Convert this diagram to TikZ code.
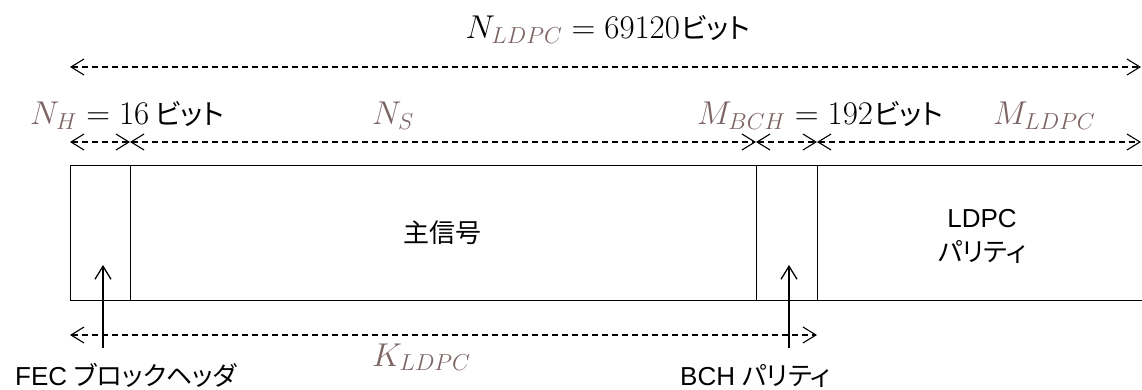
\RequirePackage{fix-cm}
\documentclass[tikz,border=0pt]{standalone}
\usepackage[no-math]{fontspec}
\setmainfont{Liberation Sans}
\newfontfamily\jp[RawFeature=+palt]{Noto Sans CJK JP}
\newcommand{\bitword}{{\jp\fontsize{28}{34}\selectfont ビット}}
\usetikzlibrary{arrows.meta}
\definecolor{subc}{RGB}{125,100,100}
\tikzset{
  blk/.style={draw, line width=1.4pt, minimum height=135pt, inner sep=0pt, anchor=north west},
  dim/.style={dash pattern=on 6pt off 4pt, line width=1.1pt, {Straight Barb[length=13pt,width=16pt]}-{Straight Barb[length=13pt,width=16pt]}},
  ptr/.style={line width=1.3pt, -{Straight Barb[length=13pt,width=16pt]}},
  mathlab/.style={inner sep=0pt, font=\fontsize{33}{39}\selectfont},
  txt/.style={inner sep=0pt, font=\fontsize{26}{34}\selectfont, align=center}
}
\begin{document}
\begin{tikzpicture}[x=1pt,y=-1pt]
\useasboundingbox (0,0) rectangle (1142,390);
% blocks
\node[blk, minimum width=60pt]  (hdr)  at (70,165)  {};
\node[blk, minimum width=626pt] (main) at (130,165) {};
\node[blk, minimum width=61pt]  (bch)  at (756,165) {};
\node[blk, minimum width=400pt] (ldpc) at (817,165) {};
\node[txt] (mainlab) at (442,233) {\jp 主信号};
\node[txt] (ldpclab) at (982,236) {LDPC\\{\jp パリティ}};
% dimension coordinates
\coordinate (tL) at (70,67);   \coordinate (tR) at (1141,67);
\coordinate (s0) at (70,142);  \coordinate (s1) at (130,142);
\coordinate (s2) at (756,142); \coordinate (s3) at (817,142);
\coordinate (s4) at (1141,142);
\coordinate (kL) at (70,335);  \coordinate (kR) at (817,335);
\draw[dim] (tL) -- (tR);
\draw[dim] (s0) -- (s1);
\draw[dim] (s1) -- (s2);
\draw[dim] (s2) -- (s3);
\draw[dim] (s3) -- (s4);
\draw[dim] (kL) -- (kR);
% pointers
\coordinate (fecA) at (103,348); \coordinate (fecB) at (103,265);
\coordinate (bchA) at (789,348); \coordinate (bchB) at (789,265);
\draw[ptr] (fecA) -- (fecB);
\draw[ptr] (bchA) -- (bchB);
% labels
\node[mathlab, anchor=base] (nldpc) at (608,39) {$N_{\textcolor{subc}{LDPC}} = 69120$\kern1pt\bitword};
\node[mathlab, anchor=base west] (nh) at (30,125) {$\textcolor{subc}{N_H} = 16$\,\bitword};
\node[mathlab, anchor=base west] (ns) at (372,125) {$\textcolor{subc}{N_S}$};
\node[mathlab, anchor=base west] (mbch) at (697,125) {$\textcolor{subc}{M_{BCH}} = 192$\kern1pt\bitword};
\node[mathlab, anchor=base west] (mldpc) at (993,125) {$\textcolor{subc}{M_{LDPC}}$};
\node[mathlab, anchor=base west] (kldpc) at (372,366) {$\textcolor{subc}{K_{LDPC}}$};
\node[txt, anchor=base west] (feclab) at (15,385) {FEC {\jp ブロックヘッダ}};
\node[txt, anchor=base west] (bchlab) at (680,385) {BCH {\jp パリティ}};
\end{tikzpicture}
\end{document}
